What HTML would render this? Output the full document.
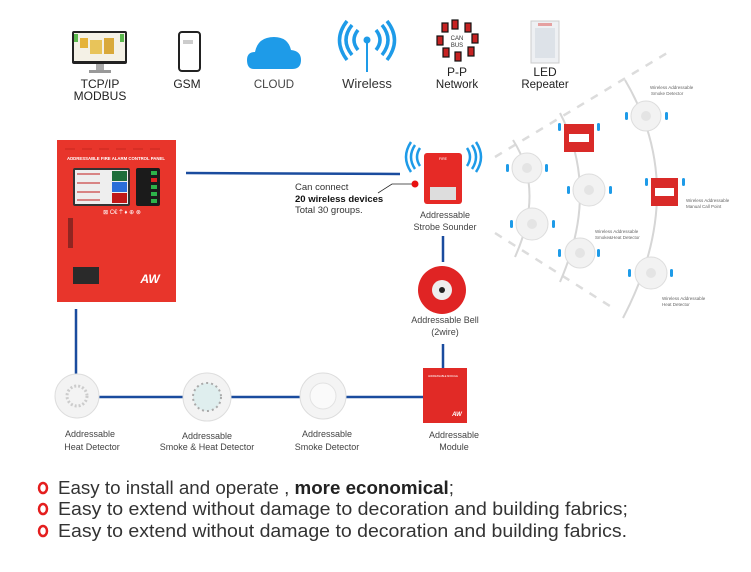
<!DOCTYPE html>
<html><head><meta charset="utf-8"><style>
html,body{margin:0;padding:0;background:#fff;}
svg{display:block;font-family:"Liberation Sans",sans-serif;}
</style></head><body>
<svg width="751" height="572" viewBox="0 0 751 572" xmlns="http://www.w3.org/2000/svg">
<rect width="751" height="572" fill="#fff"/>

<!-- top icons -->
<!-- monitor -->
<rect x="72" y="31" width="55" height="33" rx="2" fill="#222"/>
<rect x="74" y="33" width="51" height="28" fill="#f4f1e6"/>
<rect x="80" y="38" width="8" height="10" fill="#e5b33a"/><rect x="90" y="40" width="12" height="14" fill="#e8c45a"/><rect x="104" y="38" width="10" height="16" fill="#d9a93a"/>
<rect x="74" y="34" width="4" height="8" fill="#5bb84d"/><rect x="120" y="34" width="4" height="8" fill="#5bb84d"/>
<rect x="96" y="64" width="8" height="6" fill="#aaa"/><rect x="89" y="70" width="22" height="3" fill="#999"/>
<!-- phone -->
<rect x="179" y="32" width="21" height="39" rx="3" fill="#fff" stroke="#222" stroke-width="2"/>
<rect x="183" y="40" width="10" height="4" fill="#ccc"/>
<!-- cloud -->
<path d="M254 69 Q247 69 247 60 Q247 52 255 52 Q258 37 274 37 Q288 37 291 50 Q301 51 301 60 Q301 69 292 69 Z" fill="#1e9be8"/>
<!-- wireless -->
<g fill="none" stroke="#1e9be8" stroke-width="3.5">
<path d="M358 30 Q350 40 358 50"/><path d="M352 25 Q340 40 352 55"/><path d="M347 21 Q332 40 347 60"/>
<path d="M376 30 Q384 40 376 50"/><path d="M382 25 Q394 40 382 55"/><path d="M387 21 Q402 40 387 60"/>
<line x1="367" y1="40" x2="367" y2="72" stroke-width="2"/>
</g><circle cx="367" cy="40" r="3.5" fill="#1e9be8"/>
<!-- P-P network -->
<g fill="#c62222" stroke="#111" stroke-width="1.2">
<rect x="452" y="20" width="6" height="9"/><rect x="465" y="23" width="6" height="9"/><rect x="472" y="34" width="6" height="9"/><rect x="468" y="47" width="6" height="9"/>
<rect x="455" y="52" width="6" height="9"/><rect x="443" y="48" width="6" height="9"/><rect x="437" y="36" width="6" height="9"/><rect x="442" y="23" width="6" height="9"/>
</g>
<text x="457" y="40" font-size="6" text-anchor="middle" fill="#333">CAN</text>
<text x="457" y="47" font-size="6" text-anchor="middle" fill="#333">BUS</text>
<!-- LED repeater -->
<rect x="531" y="21" width="28" height="42" fill="#eef0f3" stroke="#ccc"/>
<rect x="535" y="28" width="20" height="30" fill="#dde2e8"/>
<rect x="538" y="23" width="14" height="3" fill="#e5a0a0"/>

<g font-size="12" fill="#222" text-anchor="middle">
<text x="100" y="88">TCP/IP</text><text x="100" y="100">MODBUS</text>
<text x="187" y="88">GSM</text>
<text x="274" y="88" font-size="11.5" fill="#444">CLOUD</text>
<text x="367" y="88" font-size="13" fill="#333">Wireless</text>
<text x="457" y="76">P-P</text><text x="457" y="88" font-size="11.5">Network</text>
<text x="545" y="76">LED</text><text x="545" y="88" font-size="11.5">Repeater</text>
</g>

<!-- control panel -->
<rect x="57" y="140" width="119" height="162" fill="#e8352b"/>
<g stroke="#c8281f" stroke-width="1"><line x1="65" y1="149" x2="75" y2="149"/><line x1="82" y1="149" x2="92" y2="149"/><line x1="99" y1="149" x2="109" y2="149"/><line x1="116" y1="149" x2="126" y2="149"/><line x1="133" y1="149" x2="143" y2="149"/><line x1="150" y1="149" x2="160" y2="149"/></g>
<text x="116" y="160" font-size="4.3" font-weight="bold" fill="#fff" text-anchor="middle">ADDRESSABLE FIRE ALARM CONTROL PANEL</text>
<rect x="73" y="168" width="57" height="38" rx="2" fill="#333"/>
<rect x="75" y="170" width="53" height="34" fill="#eee"/>
<rect x="112" y="171" width="15" height="10" fill="#1d6e3a"/><rect x="112" y="182" width="15" height="10" fill="#2a6ed8"/><rect x="112" y="193" width="15" height="10" fill="#c01818"/>
<g stroke="#c44" stroke-width="1.2"><line x1="77" y1="174" x2="100" y2="174"/><line x1="77" y1="183" x2="100" y2="183"/><line x1="77" y1="192" x2="100" y2="192"/><line x1="77" y1="200" x2="100" y2="200"/></g>
<rect x="136" y="168" width="24" height="38" rx="2" fill="#1b1b1b"/>
<g fill="#2db34a"><rect x="151" y="171" width="6" height="4"/><rect x="151" y="185" width="6" height="4"/><rect x="151" y="192" width="6" height="4"/><rect x="151" y="199" width="6" height="4"/></g>
<rect x="151" y="178" width="6" height="4" fill="#d22"/>
<text x="122" y="214" font-size="6" fill="#fff" text-anchor="middle">⊠ C€ ⍑ ♦ ⊕ ⊗</text>
<rect x="68" y="218" width="5" height="30" fill="#551a1a" opacity=".6"/>
<rect x="73" y="267" width="26" height="17" fill="#2a2a2a"/>
<text x="150" y="283" font-size="12" font-weight="bold" fill="#fff" font-style="italic" text-anchor="middle">AW</text>

<!-- connector lines -->
<g stroke="#1a4c9e" stroke-width="2.5" fill="none">
<line x1="186" y1="173" x2="400" y2="174"/>
<line x1="443" y1="236" x2="443" y2="262"/>
<line x1="443" y1="344" x2="443" y2="369"/>
<line x1="76" y1="309" x2="76" y2="374"/>
<line x1="98" y1="397" x2="184" y2="397"/>
<line x1="231" y1="397" x2="300" y2="397"/>
<line x1="346" y1="397" x2="423" y2="397"/>
</g>

<!-- can connect -->
<g font-size="9.5" fill="#333">
<text x="295" y="190">Can connect</text>
<text x="295" y="202" font-weight="bold" fill="#111">20 wireless devices</text>
<text x="295" y="213">Total 30 groups.</text>
</g>
<polyline points="378,193 392,184 413,184" fill="none" stroke="#222" stroke-width="0.8"/>
<circle cx="415" cy="184" r="3.5" fill="#e81010"/>

<!-- strobe sounder -->
<g fill="none" stroke="#1e9be8" stroke-width="2.5">
<path d="M420 148 Q414 157 420 166"/><path d="M415 145 Q407 157 415 169"/><path d="M411 142 Q401 157 411 172"/>
<path d="M467 148 Q473 157 467 166"/><path d="M472 145 Q480 157 472 169"/><path d="M476 142 Q486 157 476 172"/>
</g>
<rect x="424" y="153" width="38" height="51" rx="3" fill="#e62a26"/>
<rect x="430" y="187" width="26" height="13" fill="#ddd"/>
<text x="443" y="160" font-size="3.5" fill="#fff" text-anchor="middle">FIRE</text>
<g font-size="9" fill="#444" text-anchor="middle">
<text x="445" y="218">Addressable</text><text x="445" y="230">Strobe Sounder</text>
</g>

<!-- bell -->
<circle cx="442" cy="290" r="24" fill="#e02424"/>
<circle cx="442" cy="290" r="10" fill="#eee"/>
<circle cx="442" cy="290" r="3" fill="#222"/>
<g font-size="9" fill="#444" text-anchor="middle">
<text x="445" y="323">Addressable Bell</text><text x="445" y="335">(2wire)</text>
</g>

<!-- module -->
<rect x="423" y="368" width="44" height="55" fill="#e12a26"/>
<text x="428" y="377" font-size="2.5" fill="#fff">ADDRESSABLE MODULE</text>
<text x="457" y="416" font-size="6" font-weight="bold" fill="#fff" font-style="italic" text-anchor="middle">AW</text>
<g font-size="9" fill="#444" text-anchor="middle">
<text x="454" y="438">Addressable</text><text x="454" y="450">Module</text>
</g>

<!-- detectors bottom -->
<circle cx="77" cy="396" r="22" fill="#f3f3f3" stroke="#ddd"/>
<circle cx="77" cy="396" r="10" fill="none" stroke="#ccc" stroke-dasharray="2 2" stroke-width="3"/>
<circle cx="207" cy="397" r="24" fill="#f3f3f3" stroke="#ddd"/>
<circle cx="207" cy="397" r="14" fill="#dfeeee" stroke="#aaa" stroke-dasharray="2 3" stroke-width="2"/>
<circle cx="323" cy="396" r="23" fill="#f4f4f4" stroke="#ddd"/>
<circle cx="323" cy="396" r="13" fill="#fafafa" stroke="#e2e2e2"/>
<g font-size="9" fill="#444" text-anchor="middle">
<text x="90" y="437">Addressable</text><text x="92" y="450">Heat Detector</text>
<text x="207" y="439">Addressable</text><text x="207" y="450">Smoke &amp; Heat Detector</text>
<text x="327" y="437">Addressable</text><text x="327" y="450">Smoke Detector</text>
</g>

<!-- right wireless area -->
<g stroke="#dcdcdc" stroke-width="2.5" stroke-dasharray="8 8" fill="none">
<line x1="495" y1="157" x2="667" y2="53"/>
<line x1="495" y1="233" x2="613" y2="308"/>
</g>
<g stroke="#d6d6d6" stroke-width="2" fill="none">
<path d="M513 140 Q545 190 515 257"/>
<path d="M560 113 Q600 190 560 282"/>
<path d="M625 80 Q690 190 623 318"/>
</g>
<g fill="#f2f2f2" stroke="#ddd">
<circle cx="527" cy="168" r="15"/><circle cx="532" cy="224" r="16"/>
<circle cx="589" cy="190" r="16"/><circle cx="580" cy="253" r="15"/>
<circle cx="646" cy="116" r="15"/><circle cx="651" cy="273" r="16"/>
</g>
<g fill="#e4e4e4">
<circle cx="527" cy="168" r="5"/><circle cx="532" cy="224" r="5"/><circle cx="589" cy="190" r="5"/><circle cx="580" cy="253" r="5"/><circle cx="646" cy="116" r="5"/><circle cx="651" cy="273" r="5"/>
</g>
<rect x="564" y="124" width="30" height="28" fill="#d92a28"/><rect x="569" y="134" width="20" height="8" fill="#fff"/>
<rect x="651" y="178" width="27" height="28" fill="#d92a28"/><rect x="655" y="188" width="19" height="8" fill="#fff"/>
<g fill="#1e9be8">
<rect x="506" y="164" width="3" height="8" rx="1.5"/><rect x="545" y="164" width="3" height="8" rx="1.5"/>
<rect x="510" y="220" width="3" height="8" rx="1.5"/><rect x="552" y="220" width="3" height="8" rx="1.5"/>
<rect x="567" y="186" width="3" height="8" rx="1.5"/><rect x="609" y="186" width="3" height="8" rx="1.5"/>
<rect x="558" y="249" width="3" height="8" rx="1.5"/><rect x="597" y="249" width="3" height="8" rx="1.5"/>
<rect x="625" y="112" width="3" height="8" rx="1.5"/><rect x="665" y="112" width="3" height="8" rx="1.5"/>
<rect x="628" y="269" width="3" height="8" rx="1.5"/><rect x="670" y="269" width="3" height="8" rx="1.5"/>
<rect x="558" y="123" width="3" height="8" rx="1.5"/><rect x="597" y="123" width="3" height="8" rx="1.5"/>
<rect x="645" y="178" width="3" height="8" rx="1.5"/><rect x="682" y="178" width="3" height="8" rx="1.5"/>
</g>
<g font-size="4.5" fill="#666">
<text x="650" y="89">Wireless Addressable</text><text x="651" y="95">Smoke Detector</text>
<text x="686" y="202">Wireless Addressable</text><text x="686" y="208">Manual Call Point</text>
<text x="595" y="233">Wireless Addressable</text><text x="595" y="239">Smoke&amp;Heat Detector</text>
<text x="662" y="300">Wireless Addressable</text><text x="662" y="306">Heat Detector</text>
</g>

<!-- bullets -->
<g fill="none" stroke="#e41e1e" stroke-width="2.5">
<ellipse cx="43" cy="488" rx="4" ry="5"/><ellipse cx="43" cy="509" rx="4" ry="5"/><ellipse cx="43" cy="531" rx="4" ry="5"/>
</g>
<g font-size="18" fill="#333">
<text x="58" y="494" textLength="396" lengthAdjust="spacingAndGlyphs">Easy to install and operate , <tspan font-weight="bold" fill="#222">more economical</tspan>;</text>
<text x="58" y="515" textLength="570" lengthAdjust="spacingAndGlyphs">Easy to extend without damage to decoration and building fabrics;</text>
<text x="58" y="537" textLength="569" lengthAdjust="spacingAndGlyphs">Easy to extend without damage to decoration and building fabrics.</text>
</g>
</svg>
</body></html>
